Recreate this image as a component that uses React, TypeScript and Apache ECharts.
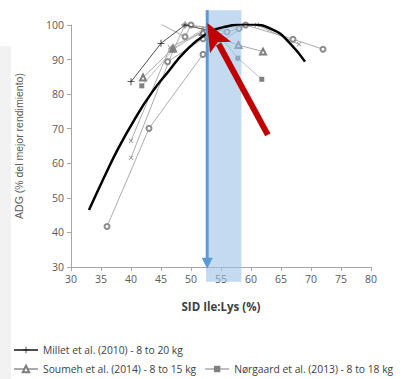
import React, { useEffect, useRef } from "react";
import * as echarts from "echarts";

// ---- data ----
const milletPts = [[40, 83.6], [45, 94.7], [49, 100], [54, 98]];
const soumehPts = [[42, 84.8], [47, 93.2], [52, 98], [57.9, 94.2], [62, 92.3]];
const norgaardPts = [[41.8, 82.4], [47, 92.8], [53.2, 100.3], [57.8, 90.4], [61.8, 84.3]];
const studyCircA = [[36, 41.7], [43, 70.1], [52, 91.5], [59.1, 100], [67, 95.9], [72, 93]];
const studyCrossB = [[40, 66.5], [46.5, 93.5], [53, 99], [61, 100], [68, 94.4]];
const studyCrossC = [[40, 61.6], [47, 92.5], [49, 100], [55, 99]];
const studyCircD = [[45, 100.2], [49, 96.6], [50, 100], [56, 98]];
const studyCircE = [[46.1, 89.4], [52, 96], [58, 99]];
const fitCurve = [[33, 46.5], [35.7, 56.6], [37.9, 64.4], [40.7, 73], [43.4, 80.3], [46.2, 86.5], [49, 92.3], [52.3, 97.1], [55.5, 99.4], [59.3, 100.2], [63.7, 98.6], [66.5, 94.7], [69, 89.4]];
const bandRange = [52.5, 58.4];
const bandY = [25.7, 104.3];
const blueArrow = [[52.7, 104.3], [52.7, 29.5]];
const redArrow = [[62.8, 68.2], [52.7, 100.6]];
const xTicks = [30, 80, 5];
const yTicks = [30, 100, 10];

const LEG1 = "Millet et al. (2010) - 8 to 20 kg";
const LEG2 = "Soumeh et al. (2014) - 8 to 15 kg";
const LEG3 = "Nørgaard et al. (2013) - 8 to 18 kg";

const PLUS = "path://M4.4,0 H5.6 V4.4 H10 V5.6 H5.6 V10 H4.4 V5.6 H0 V4.4 H4.4 Z";

export default function App() {
  const ref = useRef<HTMLDivElement>(null);
  useEffect(() => {
    document.body.style.margin = "0";
    const chart = echarts.init(ref.current!, null, { renderer: "svg" });
    const gray = "#ababab";
    const font = "Open Sans";
    const mk = "#8c8c8c";
    const thin = (name: string, data: number[][], symbol: string, extra: any = {}) => ({
      name,
      type: "line",
      data,
      symbol,
      symbolSize: 5,
      showAllSymbol: true,
      lineStyle: { color: gray, width: 1 },
      itemStyle: { color: mk, borderWidth: 1 },
      z: 2,
      ...extra,
    });
    const legendText = { color: "#404040", fontSize: 10.3, fontFamily: font };
    chart.setOption({
      animation: false,
      textStyle: { fontFamily: font },
      grid: { left: 71, right: 33, top: 25, bottom: 112 },
      xAxis: {
        type: "value",
        min: xTicks[0],
        max: xTicks[1],
        interval: xTicks[2],
        name: "SID Ile:Lys (%)",
        nameLocation: "middle",
        nameGap: 33,
        nameTextStyle: { fontWeight: "bold", fontSize: 11.5, color: "#404040", fontFamily: font },
        axisLine: { lineStyle: { color: "#a6a6a6" } },
        axisTick: { show: true, length: 4, lineStyle: { color: "#a6a6a6" } },
        axisLabel: { color: "#595959", fontSize: 10.5, margin: 6 },
        splitLine: { show: false },
      },
      yAxis: {
        type: "value",
        min: yTicks[0],
        max: yTicks[1],
        interval: yTicks[2],
        name: "ADG (% del mejor rendimiento)",
        nameLocation: "middle",
        nameGap: 47,
        nameTextStyle: { fontSize: 10.5, color: "#595959", fontFamily: "Liberation Sans" },
        axisLine: { show: true, lineStyle: { color: "#a6a6a6" } },
        axisTick: { show: true, length: 4, lineStyle: { color: "#a6a6a6" } },
        axisLabel: { color: "#595959", fontSize: 10.5, margin: 7 },
        splitLine: { show: false },
      },
      legend: [
        {
          left: 13, top: 345, padding: 0, width: 400, itemWidth: 24, itemHeight: 8, itemGap: 8,
          data: [LEG1],
          textStyle: legendText,
        },
        {
          left: 13, top: 364, padding: 0, width: 400, itemWidth: 24, itemHeight: 8, itemGap: 8,
          data: [LEG2, LEG3],
          textStyle: legendText,
        },
      ],
      series: [
        thin("circA", studyCircA, "emptyCircle"),
        thin("crossB", studyCrossB, PLUS, { symbolRotate: 45, symbolSize: 6 }),
        thin("crossC", studyCrossC, PLUS, { symbolRotate: 45, symbolSize: 6 }),
        thin("circD", studyCircD, "emptyCircle"),
        thin("circE", studyCircE, "emptyCircle"),
        {
          name: LEG1,
          type: "line",
          data: milletPts,
          symbol: PLUS,
          symbolSize: 7,
          lineStyle: { color: "#4d4d4d", width: 1 },
          itemStyle: { color: "#262626" },
          z: 3,
        },
        {
          name: LEG2,
          type: "line",
          data: soumehPts,
          symbol: "emptyTriangle",
          symbolSize: 6,
          lineStyle: { color: gray, width: 1 },
          itemStyle: { color: "#7f7f7f", borderWidth: 1 },
          z: 3,
        },
        {
          name: LEG3,
          type: "line",
          data: norgaardPts,
          symbol: "rect",
          symbolSize: 5,
          lineStyle: { color: "#bfbfbf", width: 1 },
          itemStyle: { color: "#808080" },
          z: 3,
        },
        {
          name: "fit",
          type: "line",
          data: fitCurve,
          smooth: true,
          symbol: "none",
          lineStyle: { color: "#000000", width: 2.5 },
          z: 5,
        },
      ],
    });
    const px = (pt: number[]) => chart.convertToPixel({ gridIndex: 0 }, pt) as number[];
    const b0 = px([bandRange[0], bandY[1]]);
    const b1 = px([bandRange[1], bandY[0]]);
    const a0 = px(blueArrow[0]);
    const a1 = px(blueArrow[1]);
    const r0 = px(redArrow[0]);
    const r1 = px(redArrow[1]);
    const dx = r1[0] - r0[0];
    const dy = r1[1] - r0[1];
    const len = Math.hypot(dx, dy);
    const ux = dx / len;
    const uy = dy / len;
    const headL = 28;
    const headW = 12;
    const bx = r1[0] - ux * headL;
    const by = r1[1] - uy * headL;
    const nx = -uy;
    const ny = ux;
    chart.setOption({
      graphic: [
        { type: "rect", shape: { x: 0, y: 46, width: 11, height: 333 }, style: { fill: "#f2f2f2" }, z: -10 },
        {
          type: "rect",
          shape: { x: b0[0], y: b0[1], width: b1[0] - b0[0], height: b1[1] - b0[1] },
          style: { fill: "rgba(155,194,230,0.6)" },
          z: 4,
          silent: true,
        },
        {
          type: "line",
          shape: { x1: a0[0], y1: a0[1], x2: a1[0], y2: a1[1] - 8 },
          style: { stroke: "#5b9bd5", lineWidth: 3 },
          z: 6,
          silent: true,
        },
        {
          type: "polygon",
          shape: { points: [[a1[0] - 5.5, a1[1] - 11], [a1[0] + 5.5, a1[1] - 11], [a1[0], a1[1]]] },
          style: { fill: "#5b9bd5" },
          z: 6,
          silent: true,
        },
        {
          type: "line",
          shape: { x1: r0[0], y1: r0[1], x2: bx + ux * 4, y2: by + uy * 4 },
          style: { stroke: "#c00000", lineWidth: 6 },
          z: 7,
          silent: true,
        },
        {
          type: "polygon",
          shape: { points: [[r1[0], r1[1]], [bx + nx * headW, by + ny * headW], [bx + ux * 6, by + uy * 6], [bx - nx * headW, by - ny * headW]] },
          style: { fill: "#c00000" },
          z: 7,
          silent: true,
        },
      ],
    });
    return () => chart.dispose();
  }, []);
  return <div ref={ref} style={{ width: 404, height: 379 }} />;
}
